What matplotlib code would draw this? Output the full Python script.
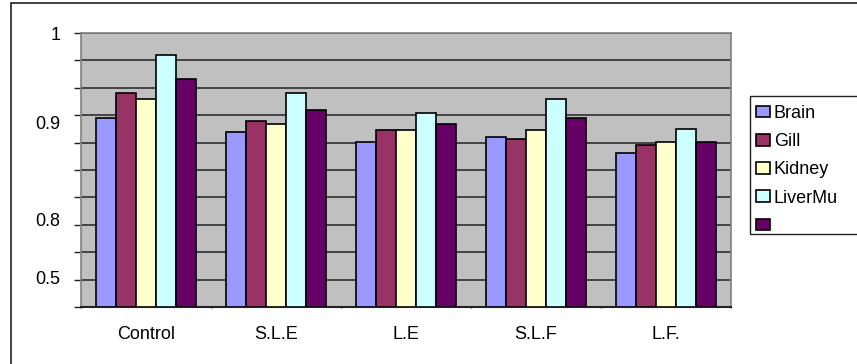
import numpy as np
import matplotlib.pyplot as plt
from matplotlib.patches import Rectangle, Patch

plt.rcParams['font.family'] = ['Liberation Sans', 'DejaVu Sans']

groups = ["Control", "S.L.E", "L.E", "S.L.F", "L.F."]
series = ["Brain", "Gill", "Kidney", "LiverMu", ""]
colors = ["#9999FF", "#993366", "#FFFFCC", "#CCFFFF", "#660066"]

brain = [0.691, 0.639, 0.602, 0.622, 0.561]
gill = [0.781, 0.680, 0.647, 0.612, 0.591]
kidney = [0.760, 0.668, 0.647, 0.647, 0.602]
livermu = [0.920, 0.780, 0.709, 0.760, 0.649]
other = [0.832, 0.719, 0.668, 0.690, 0.602]
values = [brain, gill, kidney, livermu, other]

ytick_pos = [1.0, 0.672, 0.321, 0.106]
ytick_text = ["1", "0.9", "0.8", "0.5"]

W, H = 857, 364
fig = plt.figure(figsize=(W / 100, H / 100), dpi=100)
ax = fig.add_axes([81 / W, 1 - 307 / H, 650 / W, 274 / H])
ax.set_facecolor("#C0C0C0")

x = np.arange(len(groups))
w = 0.154
for i, (vals, c, name) in enumerate(zip(values, colors, series)):
    ax.bar(x + (i - 2) * w, vals, w, color=c, edgecolor="black",
           linewidth=1.2, label=name, zorder=3)

ax.set_xlim(-0.5, len(groups) - 0.5)
ax.set_ylim(0, 1)

# gridlines + tick marks every tenth, text labels on their own positions
ax.yaxis.remove_overlapping_locs = False
ax.set_yticks(np.arange(0, 1.01, 0.1))
ax.set_yticklabels([])
ax.set_yticks(ytick_pos, ytick_text, minor=True)
ax.tick_params(axis="y", which="major", length=5, width=1, color="#222222",
               direction="out")
ax.tick_params(axis="y", which="minor", length=0, pad=15, labelsize=13)
ax.yaxis.grid(True, which="major", color="#222222", linewidth=1.1, zorder=1)
ax.set_axisbelow(True)

ax.set_xticks(x, groups)
ax.tick_params(axis="x", which="major", length=0, pad=14, labelsize=13)
ax.set_xticks(np.arange(-0.5, len(groups), 1), minor=True)
ax.tick_params(axis="x", which="minor", length=1, width=1, pad=0,
               color="#333333", direction="out")

for side in ["top", "right", "left"]:
    ax.spines[side].set_color("#808080")
    ax.spines[side].set_linewidth(1.2)
ax.spines["bottom"].set_color("#222222")
ax.spines["bottom"].set_linewidth(1.5)

# legend, its box runs past the right edge
handles = [Patch(facecolor=c, edgecolor="black", linewidth=1.2) for c in colors]
fig.legend(handles, series, loc="upper left",
           bbox_to_anchor=(756 / W, 1 - 105 / H),
           bbox_transform=fig.transFigure, fontsize=13,
           frameon=False, borderpad=0,
           handlelength=0.78, handleheight=0.6, handletextpad=0.2,
           labelspacing=0.62, borderaxespad=0)
fig.patches.append(Rectangle((750 / W, 1 - 234 / H), 130 / W, 138 / H,
                             transform=fig.transFigure, fill=False,
                             edgecolor="#222222", linewidth=1.0))

# outer chart frame
fig.patches.append(Rectangle((11 / W, -0.05), 1.1, 1 - 3 / H + 0.05,
                             transform=fig.transFigure, fill=False,
                             edgecolor="#222222", linewidth=1.2))

fig.savefig("out.png", dpi=100)
